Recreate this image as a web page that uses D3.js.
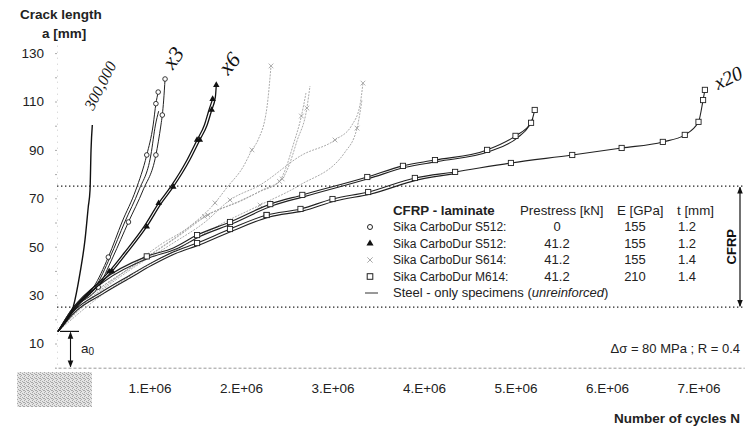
<!DOCTYPE html>
<html><head><meta charset="utf-8">
<script src="https://cdn.jsdelivr.net/npm/d3@7"></script>
<style>
body{margin:0;background:#fff;}
svg{display:block;font-family:"Liberation Sans",Arial,sans-serif;}
</style>
</head><body>
<svg id="chart" width="753" height="427"></svg>
<script>
// ---------- DATA (N in millions of cycles, a in mm) ----------
const xTicks = [1, 2, 3, 4, 5, 6, 7];
const xTickLabels = ["1.E+06", "2.E+06", "3.E+06", "4.E+06", "5.E+06", "6.E+06", "7.E+06"];
const yTicks = [10, 30, 50, 70, 90, 110, 130];
const yMinorTicks = [0, 20, 40, 60, 80, 100, 120, 140];
const a0Value = 15;
const cfrpBand = [25, 75];

// Steel-only specimen
const steelOnly = [[0,15],[0.077,18.5],[0.167,25.2],[0.24,39],[0.295,52.8],[0.331,66.5],[0.35,73.4],[0.361,90],[0.375,100.3]];

// Sika CarboDur S512, prestress 0 (circles)
const s512p0A = [[0,15],[0.18,24.7],[0.44,33.3],[0.60,45.7],[0.77,60.2],[0.93,73.4],[1.07,87.9],[1.125,100.3],[1.14,104.4],[1.155,110.6],[1.17,119.3]];
const s512p0B = [[0,15],[0.16,24.7],[0.39,33.3],[0.55,45.7],[0.70,60.2],[0.85,73.4],[0.97,87.9],[1.04,100.3],[1.07,109.1],[1.095,113.9]];
const s512p0C = [[0,15],[0.17,24.7],[0.41,33.3],[0.57,45.7],[0.73,60.2],[0.885,73.4],[1.015,87.9],[1.065,100.3],[1.10,106]];

// Sika CarboDur S512, prestress 41.2 (triangles)
const s512p41A = [[0,15],[0.24,26.6],[0.39,32.1],[0.59,39.8],[0.75,47.3],[0.97,58.3],[1.13,68],[1.26,74.7],[1.44,85.8],[1.55,94.1],[1.63,100.3],[1.68,106.5],[1.72,111.9],[1.73,116.8]];
const s512p41B = [[0,15],[0.22,26.6],[0.36,32.1],[0.56,39.8],[0.72,47.3],[0.94,58.3],[1.10,68],[1.23,74.7],[1.41,85.8],[1.52,94.1],[1.60,100.3],[1.65,106.5],[1.69,111]];

// Sika CarboDur S614, prestress 41.2 (crosses, grey)
const s614A = [[0,15],[0.295,26.7],[0.678,38.3],[1.115,50.7],[1.443,58.5],[1.716,68.1],[1.847,74.5],[2.022,82.9],[2.12,90],[2.186,94.1],[2.284,107.7],[2.328,124.7]];
const s614B = [[0,15],[0.186,24.7],[0.459,32.9],[0.896,43.7],[1.333,54.8],[1.639,63.1],[2.022,69.3],[2.23,73.4],[2.45,78],[2.513,82.5],[2.612,93.7],[2.72,107.3],[2.754,116.4]];
const s614C = [[0,15],[0.17,24],[0.43,32],[0.86,43],[1.29,54],[1.60,62.5],[1.98,68.8],[2.20,72.7],[2.42,77],[2.48,81.5],[2.57,92],[2.66,104],[2.71,113.5]];
const s614D = [[0,15],[0.35,27.9],[0.787,40.4],[1.224,50.7],[1.607,60.2],[1.88,69.3],[2.208,75.5],[2.667,87.9],[3.027,94.1],[3.213,100.3],[3.30,108.5],[3.333,117.6]];
const s614E = [[0,15],[0.404,27.9],[0.896,40.4],[1.388,50.7],[1.825,60.2],[2.208,67.2],[2.645,75.5],[3.137,89.1],[3.268,99],[3.322,110.6]];

// Sika CarboDur M614, prestress 41.2 (squares)
const m614A = [[0,15],[0.16,24.5],[0.48,36],[0.97,46],[1.26,49.5],[1.52,54.8],[1.88,60.2],[2.32,67.6],[2.67,71.4],[3.38,78.8],[3.77,83.4],[4.12,85.8],[4.69,90],[5.00,95.8],[5.17,101.2],[5.21,106.5]];
const m614B = [[0,15],[0.17,24.3],[0.50,35.5],[1.00,45.4],[1.29,49],[1.55,54.2],[1.91,59.6],[2.35,67],[2.70,70.8],[3.40,78.2],[3.80,82.8],[4.15,85.2],[4.72,89.4],[5.02,95],[5.15,100],[5.19,103]];
const m614C = [[0,15],[0.186,23.9],[0.46,30.9],[0.79,38.3],[1.00,42.9],[1.26,47.8],[1.52,51.5],[1.88,57.3],[2.28,63.1],[2.65,65.6],[3.00,69.7],[3.39,72.6],[3.90,78.4],[4.34,80.9],[4.95,84.6],[5.62,87.9],[6.16,90.8],[6.61,93.3],[6.85,96.2],[7.00,101.6],[7.05,110.6],[7.07,114.8]];
const m614D = [[0,15],[0.20,23.5],[0.48,30.3],[0.81,37.6],[1.02,42.2],[1.28,47.1],[1.55,50.8],[1.91,56.6],[2.31,62.3],[2.68,64.8],[3.03,68.9],[3.42,71.8],[3.93,77.6],[4.34,80.2]];

// Legend table
const legendHeader = ["CFRP - laminate", "Prestress [kN]", "E [GPa]", "t [mm]"];
const legendNames = ["Sika CarboDur S512:", "Sika CarboDur S512:", "Sika CarboDur S614:", "Sika CarboDur M614:"];
const legendPrestress = ["0", "41.2", "41.2", "41.2"];
const legendE = ["155", "155", "155", "210"];
const legendT = ["1.2", "1.2", "1.4", "1.4"];
const legendSymbols = ["circle", "triangle", "cross", "square"];

// ---------- DRAW ----------
const svg = d3.select("#chart");
const x = d3.scaleLinear().domain([0, 7.5]).range([58, 744.25]);
const y = d3.scaleLinear().domain([0, 140]).range([367.7, 28.9]);

const defs = svg.append("defs");
const pat = defs.append("pattern").attr("id","noise").attr("width",4).attr("height",4).attr("patternUnits","userSpaceOnUse");
pat.append("rect").attr("width",4).attr("height",4).attr("fill","#e4e4e4");
[[0,0],[2,1],[1,3],[3,2],[0,2]].forEach(p=>pat.append("rect").attr("x",p[0]).attr("y",p[1]).attr("width",1).attr("height",1).attr("fill","#a8a8a8"));
svg.append("rect").attr("x",17).attr("y",372).attr("width",75).attr("height",35).attr("fill","url(#noise)");

// axes
const xAxis = d3.axisBottom(x).tickValues(xTicks).tickFormat((d,i)=>xTickLabels[i]).tickSize(0).tickPadding(16);
const gx = svg.append("g").attr("transform",`translate(0,${y(0)})`).call(xAxis);
gx.select(".domain").attr("stroke","#999").attr("stroke-dasharray","3,2");
gx.selectAll("text").attr("font-size",13.5).attr("fill","#222").attr("font-family","Liberation Sans, Arial, sans-serif");

const yAxisMinor = d3.axisLeft(y).tickValues(yMinorTicks.concat(yTicks)).tickSize(2).tickFormat("");
const gyMinor = svg.append("g").attr("transform",`translate(57,0)`).call(yAxisMinor);
gyMinor.select(".domain").attr("stroke","#ccc").attr("stroke-dasharray","1,5");
gyMinor.selectAll("line").attr("stroke","#aaa");
const yAxis = d3.axisLeft(y).tickValues(yTicks).tickSize(0).tickPadding(13);
const gy = svg.append("g").attr("transform",`translate(57,0)`).call(yAxis);
gy.select(".domain").remove();
gy.selectAll("text").attr("font-size",13.5).attr("fill","#222").attr("font-family","Liberation Sans, Arial, sans-serif");

// CFRP band dotted lines
svg.selectAll(".band").data(cfrpBand).enter().append("line")
  .attr("x1",57).attr("x2",745).attr("y1",d=>y(d)).attr("y2",d=>y(d))
  .attr("stroke","#222").attr("stroke-width",1.2).attr("stroke-dasharray","1.4,2.6");

// arrow markers
const mk = defs.append("marker").attr("id","arr").attr("viewBox","0 0 10 10").attr("refX",9).attr("refY",5)
  .attr("markerWidth",7).attr("markerHeight",8).attr("orient","auto-start-reverse").attr("markerUnits","userSpaceOnUse");
mk.append("path").attr("d","M0,1 L10,5 L0,9 Z").attr("fill","#111");

// CFRP double arrow
svg.append("line").attr("x1",740).attr("x2",740).attr("y1",y(cfrpBand[1])+1).attr("y2",y(cfrpBand[0])-1)
  .attr("stroke","#111").attr("stroke-width",1.2).attr("marker-start","url(#arr)").attr("marker-end","url(#arr)");
svg.append("text").attr("transform",`translate(736,${y(50)}) rotate(-90)`).attr("text-anchor","middle")
  .attr("font-size",13).attr("font-weight","bold").attr("fill","#111").text("CFRP");

// a0 annotation
svg.append("line").attr("x1",60).attr("x2",79).attr("y1",y(a0Value)).attr("y2",y(a0Value)).attr("stroke","#111").attr("stroke-width",1.2);
svg.append("line").attr("x1",70.5).attr("x2",70.5).attr("y1",y(a0Value)+1).attr("y2",y(0)-1)
  .attr("stroke","#111").attr("stroke-width",1.1).attr("marker-start","url(#arr)").attr("marker-end","url(#arr)");
const a0t = svg.append("text").attr("x",81).attr("y",353).attr("font-size",13.5).attr("fill","#222");
a0t.append("tspan").text("a");
a0t.append("tspan").attr("font-size",10).attr("dy",2).text("0");

// lines
const line = d3.line().x(d=>x(d[0])).y(d=>y(d[1])).curve(d3.curveMonotoneX);
function drawLine(data, stroke, width, dash){
  svg.append("path").datum(data).attr("d",line).attr("fill","none").attr("stroke",stroke)
    .attr("stroke-width",width).attr("stroke-dasharray",dash||null);
}
function drawMarkers(data, type){
  const pts = data.slice(1);
  const g = svg.append("g");
  pts.forEach(p=>{
    const cx = x(p[0]), cy = y(p[1]);
    if(type==="circle") g.append("circle").attr("cx",cx).attr("cy",cy).attr("r",2.3).attr("fill","#fff").attr("stroke","#222").attr("stroke-width",0.9);
    else if(type==="triangle") g.append("path").attr("transform",`translate(${cx},${cy})`).attr("d",d3.symbol(d3.symbolTriangle,18)()).attr("fill","#111");
    else if(type==="cross") g.append("path").attr("transform",`translate(${cx},${cy})`).attr("d",d3.symbol(d3.symbolX,16)()).attr("fill","none").attr("stroke","#999").attr("stroke-width",0.8);
    else if(type==="square") g.append("rect").attr("x",cx-2.6).attr("y",cy-2.6).attr("width",5.2).attr("height",5.2).attr("fill","#fff").attr("stroke","#222").attr("stroke-width",0.9);
  });
}

[s614A,s614B,s614C,s614D,s614E].forEach(s=>{ drawLine(s,"#a0a0a0",0.9,"2,1.2"); });
[s614A,s614B,s614C,s614D,s614E].forEach(s=>drawMarkers(s.filter((d,i)=>i%3===2),"cross"));

[m614A,m614B,m614C,m614D].forEach(s=>drawLine(s,"#222",1.1));
drawMarkers(m614A.filter((d,i)=>i>=4),"square");
drawMarkers(m614C.filter((d,i)=>i>=6 || i===4),"square");
drawMarkers([[0,0],[0.97,46],[2.28,63.1]],"square");

[s512p0A,s512p0B,s512p0C].forEach(s=>drawLine(s,"#222",1));
drawMarkers(s512p0A.filter((d,i)=>i%2===0),"circle");
drawMarkers(s512p0B.filter((d,i)=>i%3===0 || i===8),"circle");

[s512p41A,s512p41B].forEach(s=>drawLine(s,"#111",1.3));
drawMarkers(s512p41A.filter((d,i)=>i%2===1),"triangle");
drawMarkers(s512p41B.filter((d,i)=>i%3===0),"triangle");

drawLine(steelOnly,"#111",1.4);

// handwritten notes
function note(txt, cx, cy, ang, size){
  svg.append("text").attr("transform",`translate(${cx},${cy}) rotate(${ang})`).attr("text-anchor","middle")
    .attr("font-family","Liberation Serif, serif").attr("font-style","italic").attr("font-size",size)
    .attr("fill","#111").text(txt);
}
note("300,000", 105, 88, -63, 16);
note("x3", 179, 62, -55, 22);
note("x6", 235, 68, -50, 22);
note("x20", 731, 84, -25, 20);

// legend
const lg = svg.append("g").attr("font-size",12).attr("fill","#222");
const rowY = [231, 247.5, 264, 280.5];
lg.append("text").attr("x",393).attr("y",214.5).attr("font-weight","bold").attr("font-size",13.3).text(legendHeader[0]);
lg.append("text").attr("x",520).attr("y",214.5).attr("font-size",13.3).text(legendHeader[1]);
lg.append("text").attr("x",617).attr("y",214.5).attr("font-size",13.3).text(legendHeader[2]);
lg.append("text").attr("x",677).attr("y",214.5).attr("font-size",13.3).text(legendHeader[3]);
legendNames.forEach((n,i)=>{
  lg.append("text").attr("x",393).attr("y",rowY[i]).text(n);
  lg.append("text").attr("x",557).attr("y",rowY[i]).attr("text-anchor","middle").attr("font-size",13).text(legendPrestress[i]);
  lg.append("text").attr("x",635).attr("y",rowY[i]).attr("text-anchor","middle").attr("font-size",13).text(legendE[i]);
  lg.append("text").attr("x",687).attr("y",rowY[i]).attr("text-anchor","middle").attr("font-size",13).text(legendT[i]);
  const cx = 370, cy = rowY[i]-4;
  const t = legendSymbols[i];
  if(t==="circle") lg.append("circle").attr("cx",cx).attr("cy",cy).attr("r",2.5).attr("fill","#fff").attr("stroke","#222");
  if(t==="triangle") lg.append("path").attr("transform",`translate(${cx},${cy})`).attr("d",d3.symbol(d3.symbolTriangle,22)()).attr("fill","#111");
  if(t==="cross") lg.append("path").attr("transform",`translate(${cx},${cy})`).attr("d",d3.symbol(d3.symbolX,20)()).attr("fill","none").attr("stroke","#aaa");
  if(t==="square") lg.append("rect").attr("x",cx-2.8).attr("y",cy-2.8).attr("width",5.6).attr("height",5.6).attr("fill","#fff").attr("stroke","#222");
});
lg.append("line").attr("x1",365).attr("x2",378).attr("y1",293).attr("y2",293).attr("stroke","#333");
const st = lg.append("text").attr("x",393).attr("y",297).attr("font-size",13);
st.append("tspan").text("Steel - only specimens (");
st.append("tspan").attr("font-style","italic").text("unreinforced");
st.append("tspan").text(")");

// titles
svg.append("text").attr("x",20).attr("y",19).attr("font-size",13.5).attr("font-weight","bold").attr("fill","#222").text("Crack length");
svg.append("text").attr("x",42).attr("y",38).attr("font-size",13.5).attr("font-weight","bold").attr("fill","#222").text("a [mm]");
svg.append("text").attr("x",740).attr("y",423).attr("text-anchor","end").attr("font-size",13.5).attr("font-weight","bold").attr("fill","#222").text("Number of cycles N");
const ds = svg.append("text").attr("x",740).attr("y",353).attr("text-anchor","end").attr("font-size",13).attr("fill","#222");
ds.append("tspan").text("\u0394\u03c3");
ds.append("tspan").text(" = 80 MPa ; R = 0.4");
</script>
</body></html>
